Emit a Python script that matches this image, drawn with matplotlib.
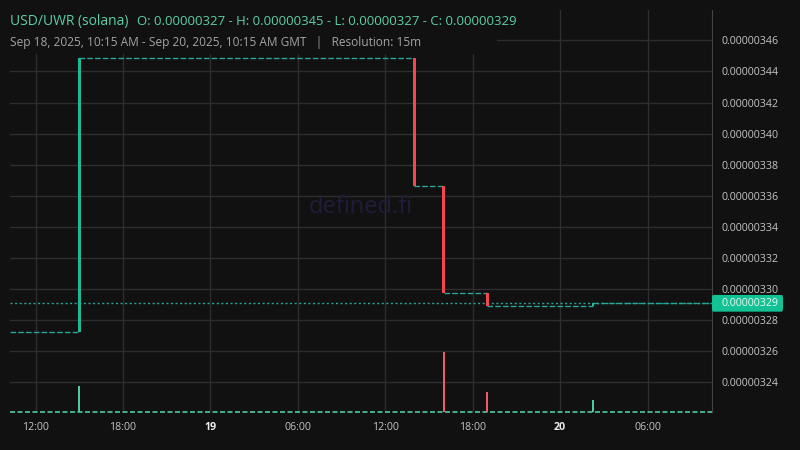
#!/usr/bin/env python3

import matplotlib
matplotlib.use("Agg")
import matplotlib.pyplot as plt
import matplotlib.dates as mdates
import matplotlib.patches as mpatches
import matplotlib.transforms as mtransforms
import pandas as pd

# 15 minute candles that actually moved (flat doji runs between them are drawn as dashed levels)
candle_times = ["2025-09-18 15:00", "2025-09-19 14:00", "2025-09-19 16:00",
                "2025-09-19 19:00", "2025-09-20 02:15"]
opens = [3.2726e-6, 3.4484e-6, 3.3663e-6, 3.2973e-6, 3.2893e-6]
closes = [3.4484e-6, 3.3663e-6, 3.2973e-6, 3.2893e-6, 3.2909e-6]
volumes = [26, 0.3, 60, 20, 12]

start_time = "2025-09-18 10:15"
end_time = "2025-09-20 10:25"
first_open = 3.2726e-6
last_price = 3.2909e-6

price_ticks = [3.24e-6, 3.26e-6, 3.28e-6, 3.30e-6, 3.32e-6, 3.34e-6,
               3.36e-6, 3.38e-6, 3.40e-6, 3.42e-6, 3.44e-6, 3.46e-6]
xtick_times = ["2025-09-18 12:00", "2025-09-18 18:00", "2025-09-19 00:00", "2025-09-19 06:00",
               "2025-09-19 12:00", "2025-09-19 18:00", "2025-09-20 00:00", "2025-09-20 06:00"]
xtick_labels = ["12:00", "18:00", "19", "06:00", "12:00", "18:00", "20", "06:00"]

title = "USD/UWR (solana)"
ohlc_text = "O: 0.00000327 - H: 0.00000345 - L: 0.00000327 - C: 0.00000329"
sub_text = "Sep 18, 2025, 10:15 AM - Sep 20, 2025, 10:15 AM GMT   |   Resolution: 15m"

BG = "#111111"
GRID = "#2e2e2e"
UP = "#1db894"
DOWN = "#f2474f"
UP_VOL = "#4fc9a4"
DOWN_VOL = "#ee5b6b"
LEVEL = "#26a69a"
LABEL = "#c4c4c4"

plt.rcParams["font.family"] = ["Open Sans", "DejaVu Sans"]

fig = plt.figure(figsize=(8, 4.5), dpi=100, facecolor=BG)
ax = fig.add_axes([10 / 800, 38 / 450, 702 / 800, 402 / 450])
ax.set_facecolor(BG)

t = mdates.date2num(pd.to_datetime(candle_times))
t0 = mdates.date2num(pd.Timestamp(start_time))
t1 = mdates.date2num(pd.Timestamp(end_time))
xt = mdates.date2num(pd.to_datetime(xtick_times))

ymin, ymax = 3.2210e-6, 3.4795e-6
ax.set_xlim(t0, t1)
ax.set_ylim(ymin, ymax)

# grid
for v in price_ticks:
    ax.axhline(v, color=GRID, lw=1, zorder=0)
for x in xt:
    ax.axvline(x, color=GRID, lw=1, zorder=0)

# flat stretches between the moving candles
level_starts = [t0] + list(t)
level_ends = list(t) + [t1]
level_values = [first_open] + closes
dash = (0, (4, 1.6))
for a, b, v in zip(level_starts, level_ends, level_values):
    ax.plot([a, b], [v, v], color=LEVEL, lw=1, linestyle=dash, zorder=2)

# candle bodies
body_w = 0.2 / 24
for x, o, c in zip(t, opens, closes):
    col = UP if c >= o else DOWN
    h = max(abs(c - o), 0.1e-8)
    ax.bar(x, h, bottom=min(o, c), width=body_w, color=col, zorder=3, linewidth=0)

# last price line
ax.axhline(last_price, color=LEVEL, lw=1, linestyle=(0, (1.5, 1.8)), zorder=2)

# volume overlay
vax = ax.twinx()
vax.set_ylim(0, max(volumes) * 402 / 60)
vax.axis("off")
for x, o, c, vol in zip(t, opens, closes, volumes):
    vax.bar(x, vol, width=0.13 / 24, color=UP_VOL if c >= o else DOWN_VOL, linewidth=0, zorder=3)
vax.axhline(0.5, color=UP_VOL, lw=1.2, linestyle=(0, (3, 1.5)), zorder=2, clip_on=False)

# axes look
for side in ["top", "left", "bottom"]:
    ax.spines[side].set_visible(False)
ax.spines["right"].set_color("#444444")

ax.yaxis.tick_right()
ax.set_yticks(price_ticks)
ax.set_yticklabels(["%.8f" % v for v in price_ticks])
ax.tick_params(axis="y", length=0, pad=7.2, labelsize=7.7, labelcolor=LABEL)
ax.set_xticks(xt)
ax.set_xticklabels(xtick_labels)
ax.tick_params(axis="x", length=0, pad=7.5, labelsize=7.7, labelcolor=LABEL)
for lab in ax.get_xticklabels():
    if ":" not in lab.get_text():
        lab.set_fontweight("bold")
        lab.set_color("#ececec")

# last price tag
px_per_unit = 402 / (ymax - ymin)
tag_h = 16.7 / px_per_unit
blend = mtransforms.blended_transform_factory(ax.transAxes, ax.transData)
tag = mpatches.FancyBboxPatch((1.0, last_price - tag_h / 2), 71 / 702, tag_h,
                              boxstyle="round,pad=0,rounding_size=0.002",
                              transform=blend, fc="#12c194", ec="none",
                              clip_on=False, zorder=6, mutation_aspect=1e-6)
ax.add_patch(tag)
ax.text(1 + 10 / 702, last_price, "%.8f" % last_price, transform=blend, ha="left", va="center",
        fontsize=7.7, color="#eef8f4", zorder=7, clip_on=False)

# watermark
ax.text(0.50, 0.51, "defined.fi", transform=ax.transAxes, ha="center", va="center",
        fontsize=17, color="#1f1d3b", zorder=1)

# header box and text
fig.patches.append(mpatches.Rectangle((0, 1 - 54 / 450), 497 / 800, 54 / 450,
                                      transform=fig.transFigure, fc=BG, ec="none", zorder=5))
fig.text(10 / 800, 1 - 25 / 450, title, fontsize=10, color="#5ccfa9", va="baseline", zorder=6)
fig.text(137 / 800, 1 - 25 / 450, ohlc_text, fontsize=9.45, color="#5ccfa9", va="baseline", zorder=6)
fig.text(10 / 800, 1 - 45.7 / 450, sub_text, fontsize=8.6, color="#a4a4a4", va="baseline", zorder=6)

fig.savefig("out.png", dpi=100, facecolor=BG)
